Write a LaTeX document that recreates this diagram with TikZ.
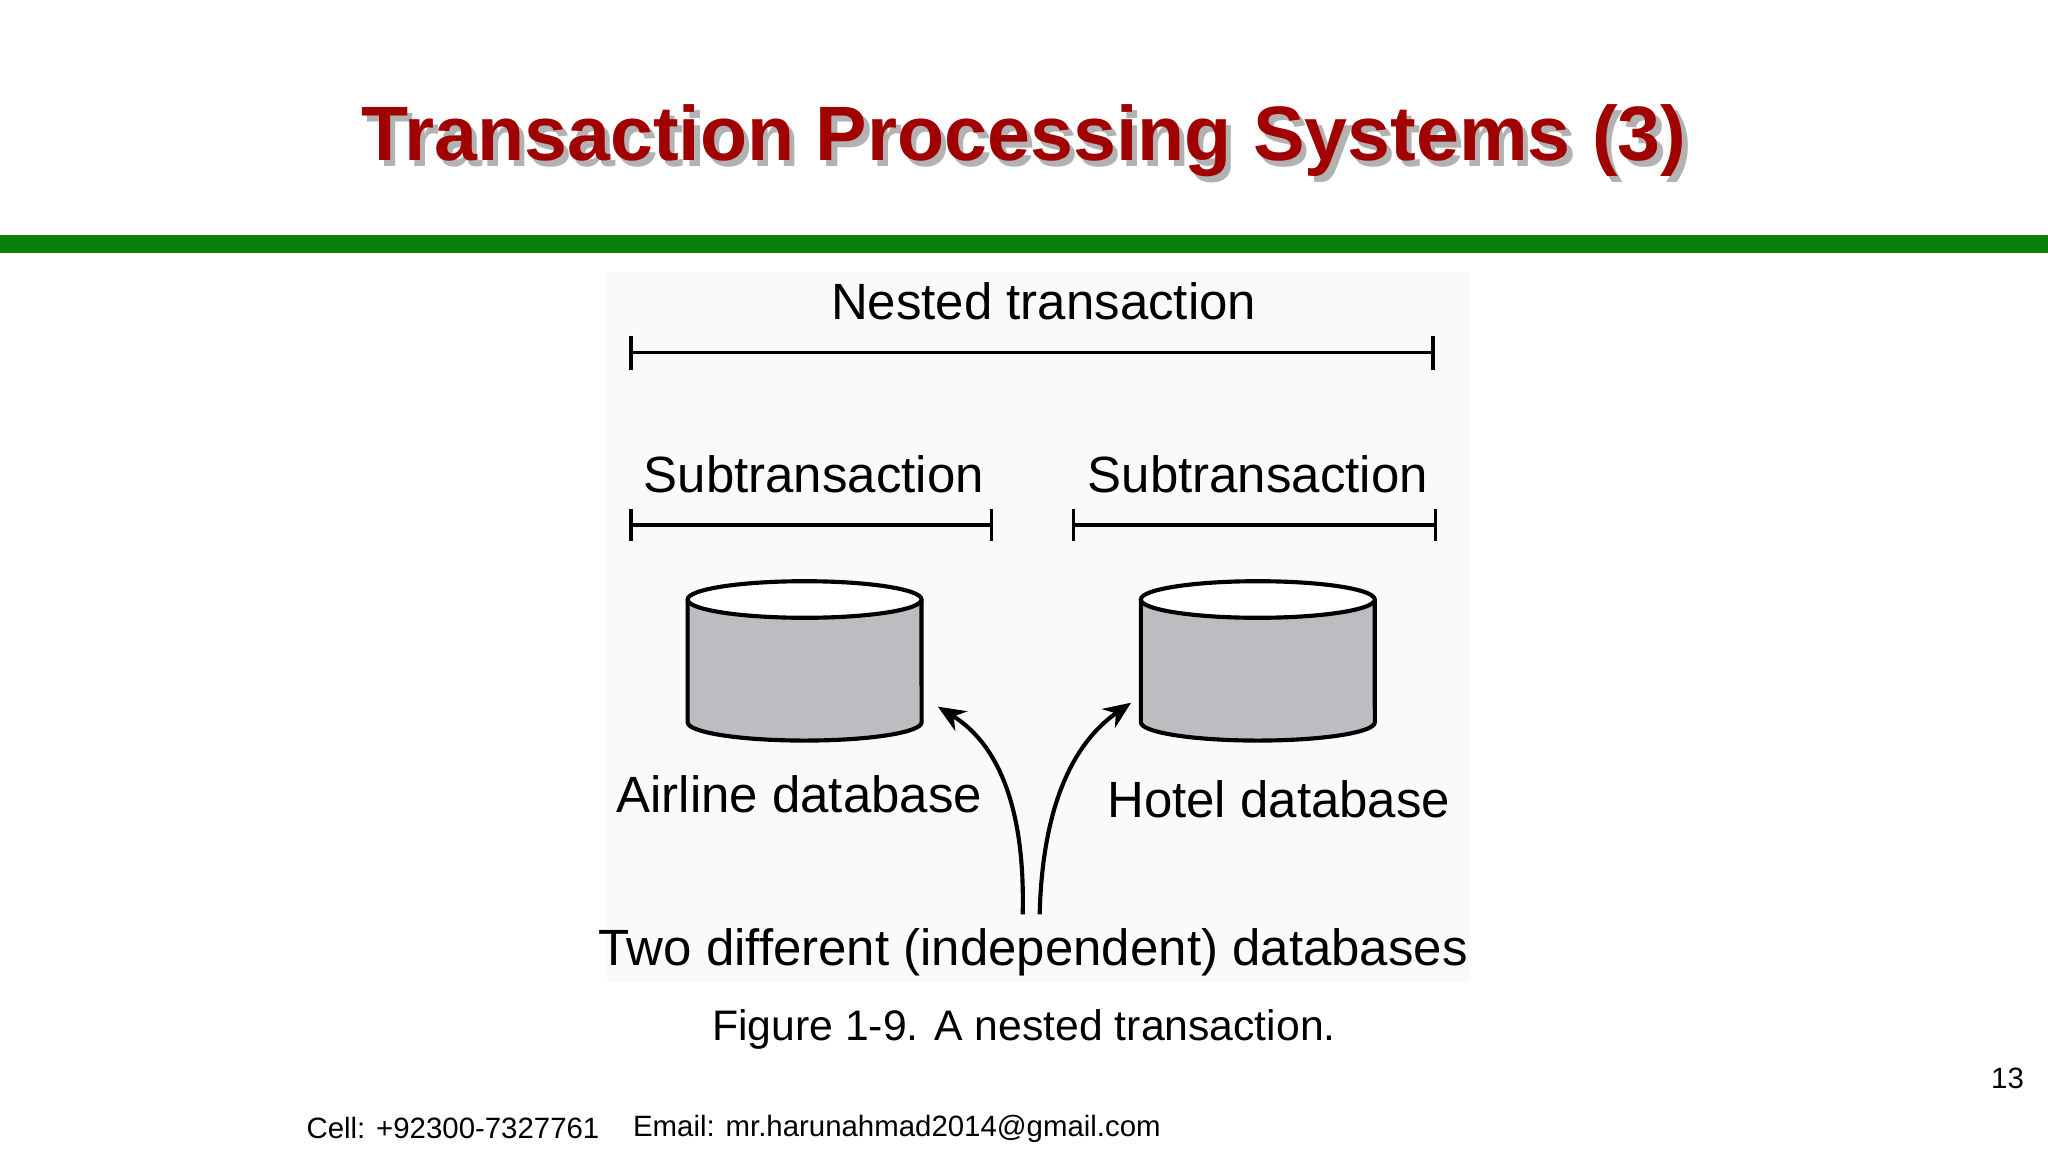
\documentclass[tikz,border=0pt]{standalone}
\usepackage{fontspec}
\setmainfont{Liberation Sans}
\usetikzlibrary{arrows.meta}
\definecolor{titlered}{HTML}{A00000}
\definecolor{barGreen}{HTML}{0A7F0A}
\definecolor{dbgray}{HTML}{BDBCC0}
\tikzset{
    diag-text/.style = {font=\fontsize{11.1}{13}\selectfont, inner sep=0pt},
    title-text/.style = {font=\bfseries\fontsize{16.8}{20}\selectfont, inner sep=0pt},
    foot-text/.style = {font=\fontsize{6.4}{8}\selectfont, inner sep=0pt},
    bracket/.style = {draw, line width=0.8pt},
    db-line/.style = {draw, line width=0.9pt},
    curve-arrow/.style = {draw, line width=0.9pt, -{Stealth[length=6pt,width=5pt]}},
}
% cylinder: name, centre x
\newcommand{\dbcyl}[2]{%
    \coordinate (#1) at (#2,506);
    \draw[db-line, fill=dbgray] (#2-89.5,459) -- (#2-89.5,553)
        arc[start angle=180, end angle=360, x radius=0.895cm, y radius=0.14cm] -- (#2+89.5,459);
    \draw[db-line, fill=white] (#2,459) ellipse [x radius=0.895cm, y radius=0.14cm];
}
\begin{document}
\begin{tikzpicture}[x=0.01cm, y=-0.01cm]
\useasboundingbox (0,0) rectangle (1568,882);
\fill[white] (0,0) rectangle (1568,882);
\fill[black!2] (465,208) rectangle (1125,752);
\fill[barGreen] (0,180) rectangle (1568,194);
% title with shadow
\node[title-text, text=black!30] (titleshadow) at (788,112) {Transaction Processing Systems (3)};
\node[title-text, text=titlered] (title) at (784,108) {Transaction Processing Systems (3)};
% brackets
\node[diag-text] (nested) at (799,231) {Nested transaction};
\draw[bracket] (483,270) -- (1097,270) (483,257) -- (483,283) (1097,257) -- (1097,283);
\node[diag-text] (subA) at (623,363) {Subtransaction};
\draw[bracket] (483,402) -- (759,402) (483,390) -- (483,414) (759,390) -- (759,414);
\node[diag-text] (subH) at (963,363) {Subtransaction};
\draw[bracket] (822,402) -- (1099,402) (822,390) -- (822,414) (1099,390) -- (1099,414);
% databases
\dbcyl{airline}{616}
\dbcyl{hotel}{963}
\node[diag-text] (airlineLbl) at (612,608) {Airline database};
\node[diag-text] (hotelLbl) at (979,612) {Hotel database};
\node[diag-text] (two) at (791,729) {Two different (independent) databases};
\coordinate (startA) at (783,700);
\coordinate (startH) at (796,700);
\coordinate (tipA) at (718,541);
\coordinate (tipH) at (866,538);
\draw[curve-arrow] (startA) .. controls (785,620) and (765,570) .. (tipA);
\draw[curve-arrow] (startH) .. controls (798,620) and (820,570) .. (tipH);
\node[font=\fontsize{9.3}{11}\selectfont, inner sep=0pt] (caption) at (784,788) {Figure 1-9. A nested transaction.};
\node[foot-text, anchor=west] (cell) at (234,864) {Cell: +92300-7327761};
\node[foot-text, anchor=west] (email) at (484,864) {Email: mr.harunahmad2014@gmail.com};
\node[foot-text] (pagenum) at (1537,826) {13};
\end{tikzpicture}
\end{document}
